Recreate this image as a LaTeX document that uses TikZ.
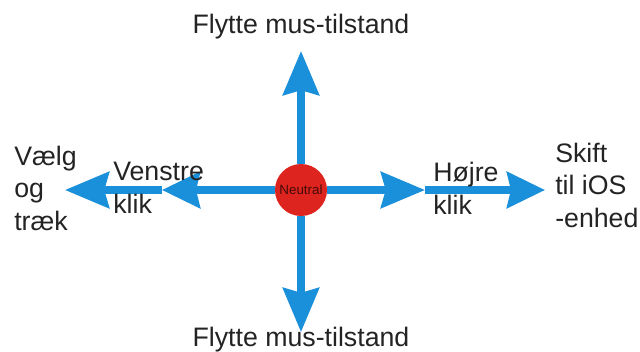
\documentclass[tikz,border=0pt]{standalone}
\usepackage{fontspec}
\setmainfont{Liberation Sans}
\usetikzlibrary{arrows.meta}

\definecolor{arrowblue}{RGB}{26,143,218}
\definecolor{dotred}{RGB}{222,36,30}
\definecolor{txtgray}{RGB}{35,35,35}

\tikzset{
  flow/.style={draw=arrowblue, line width=5pt,
    -{Stealth[length=1.1cm, width=0.9cm, inset=0.12cm]}},
  midflow/.style={draw=arrowblue, line width=5pt,
    -{Stealth[length=0.95cm, width=0.9cm, inset=0.1cm]}},
  lbl/.style={font=\fontsize{19}{23}\selectfont, text=txtgray,
    inner sep=0pt, align=left, anchor=base west},
}

\begin{document}
\begin{tikzpicture}[x=0.025cm, y=-0.025cm]
\useasboundingbox (0,0) rectangle (640,351);

% centre
\node[circle, fill=dotred, minimum size=1.3cm, inner sep=0pt,
  font=\fontsize{9.5}{10}\selectfont, text=black!70!dotred] (neutral) at (301,190) {Neutral};

% arrow ends
\coordinate (uptip) at (301,51);
\coordinate (downtip) at (301,332);
\coordinate (lefttip) at (65,190);
\coordinate (leftmid) at (162,190);
\coordinate (righttip) at (545,190);
\coordinate (rightmid) at (425,190);

\draw[flow] (neutral) -- (uptip);
\draw[flow] (neutral) -- (downtip);
\draw[midflow] (neutral) -- (leftmid);
\draw[flow] (leftmid) -- (lefttip);
\draw[flow] (neutral) -- (rightmid);
\draw[midflow] (rightmid) -- (righttip);

% labels (base = last line)
\node[lbl, anchor=base] (top) at (301,33) {Flytte mus-tilstand};
\node[lbl, anchor=base] (bottom) at (301,346) {Flytte mus-tilstand};
\node[lbl] (select) at (14,230) {Vælg\\og\\træk};
\node[lbl] (leftclick) at (113,213) {Venstre\\klik};
\node[lbl] (rightclick) at (433,214) {Højre\\klik};
\node[lbl] (switch) at (555,227) {Skift\\til iOS\\-enhed};
\end{tikzpicture}
\end{document}
